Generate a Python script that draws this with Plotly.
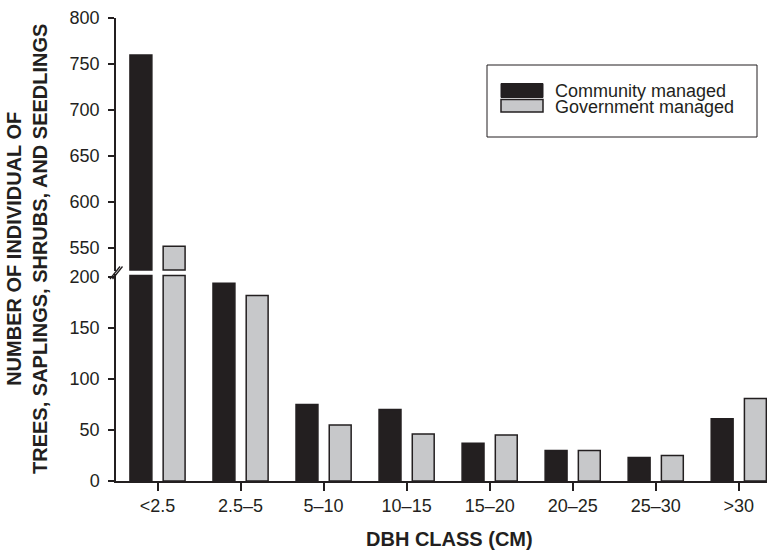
import plotly.graph_objects as go

# ---------------- data ----------------
categories = ["<2.5", "2.5–5", "5–10", "10–15", "15–20", "20–25", "25–30", ">30"]
community = [760, 194, 75, 70, 37, 30, 23, 61]
government = [552, 182, 55, 46, 45, 30, 25, 81]
series_names = ["Community managed", "Government managed"]
lower_ticks = [0, 50, 100, 150, 200]
upper_ticks = [550, 600, 650, 700, 750, 800]

# broken-axis ranges
LOWER_RANGE = [0, 203]
UPPER_RANGE = [524.5, 800.2]
UPPER_BASE = 526     # where the upper bar segments start (just above the break)
LOWER_CAP = 201.5    # where the lower bar segments end (just below the break)

# ---------------- style ----------------
DARK = "#231f20"
GRAY = "#c7c8ca"
FONT = "Liberation Sans, Arial, Helvetica, sans-serif"
W, H = 772, 552
ML, MR, MT, MB = 116, 5, 18, 71
PW, PH = W - ML - MR, H - MT - MB


def px(x):
    return (x - ML) / PW


def py(y):
    return (H - MB - y) / PH


fig = go.Figure()
for vals, color, name in [(community, DARK, series_names[0]), (government, GRAY, series_names[1])]:
    lower_vals = [min(v, LOWER_CAP) for v in vals]
    upper_vals = [(v - UPPER_BASE) if v > UPPER_BASE else None for v in vals]
    marker = dict(color=color, line=dict(color=DARK, width=1.5))
    fig.add_trace(go.Bar(
        x=categories, y=lower_vals, name=name, xaxis="x", yaxis="y",
        marker=marker, showlegend=False, customdata=vals,
        hovertemplate="%{x}: %{customdata}<extra>" + name + "</extra>",
    ))
    fig.add_trace(go.Bar(
        x=categories, y=upper_vals, base=UPPER_BASE, name=name, xaxis="x2", yaxis="y2",
        marker=marker, showlegend=False, customdata=vals,
        hovertemplate="%{x}: %{customdata}<extra>" + name + "</extra>",
    ))

axis_common = dict(
    showline=True, linecolor=DARK, linewidth=1.5,
    ticks="outside", ticklen=6, tickwidth=1.5, tickcolor=DARK,
    showgrid=False, zeroline=False,
    tickfont=dict(family=FONT, size=18, color=DARK),
)

fig.update_layout(
    width=W, height=H,
    margin=dict(l=ML, r=MR, t=MT, b=MB, pad=0),
    paper_bgcolor="white", plot_bgcolor="white",
    barmode="group", bargap=0.2, bargroupgap=0.34,
    font=dict(family=FONT, color=DARK),
    xaxis=dict(axis_common, type="category", categoryorder="array", categoryarray=categories,
               range=[-0.5, 7.34], anchor="y", domain=[0, 1], ticklen=8),
    xaxis2=dict(matches="x", anchor="y2", visible=False, domain=[0, 1]),
    yaxis=dict(axis_common, domain=[0, 0.4471], range=LOWER_RANGE, tickvals=lower_ticks,
               anchor="x", ticklabelstandoff=5),
    yaxis2=dict(axis_common, domain=[0.4525, 1], range=UPPER_RANGE, tickvals=upper_ticks,
                anchor="x2", ticklabelstandoff=5),
    showlegend=False,
)

shapes = []
# axis break marks
for dx in (0, 2.5):
    shapes.append(dict(type="line", xref="paper", yref="paper",
                       x0=px(110 + dx), y0=py(279), x1=px(120 + dx), y1=py(266.5),
                       line=dict(color=DARK, width=1.3)))

# manual legend
shapes.append(dict(type="rect", xref="paper", yref="paper",
                   x0=px(487), x1=px(757), y0=py(137), y1=py(65),
                   line=dict(color=DARK, width=1), fillcolor="white", layer="above"))
shapes.append(dict(type="rect", xref="paper", yref="paper",
                   x0=px(501), x1=px(543), y0=py(97.5), y1=py(83.5),
                   line=dict(color=DARK, width=1), fillcolor=DARK, layer="above"))
shapes.append(dict(type="rect", xref="paper", yref="paper",
                   x0=px(501), x1=px(543), y0=py(112), y1=py(99.5),
                   line=dict(color=DARK, width=1.5), fillcolor=GRAY, layer="above"))

annotations = [
    dict(text=series_names[0], xref="paper", yref="paper", x=px(553), y=py(91),
         xanchor="left", yanchor="middle", showarrow=False,
         font=dict(family=FONT, size=18, color=DARK)),
    dict(text=series_names[1], xref="paper", yref="paper", x=px(553), y=py(107),
         xanchor="left", yanchor="middle", showarrow=False,
         font=dict(family=FONT, size=18, color=DARK)),
    dict(text="<b>DBH CLASS (CM)</b>", xref="paper", yref="paper", x=px(449), y=py(539),
         xanchor="center", yanchor="middle", showarrow=False,
         font=dict(family=FONT, size=20, color=DARK)),
    dict(text="<b>NUMBER OF INDIVIDUAL OF<br>TREES, SAPLINGS, SHRUBS, AND SEEDLINGS</b>",
         xref="paper", yref="paper", x=px(26.5), y=0.5, textangle=-90,
         xanchor="center", yanchor="middle", showarrow=False, align="center",
         font=dict(family=FONT, size=20, color=DARK)),
]
fig.update_layout(shapes=shapes, annotations=annotations)

fig.write_html(
    "out.html",
    config={"displayModeBar": False},
    post_script="document.body.style.margin='0';document.body.style.padding='0';",
)
